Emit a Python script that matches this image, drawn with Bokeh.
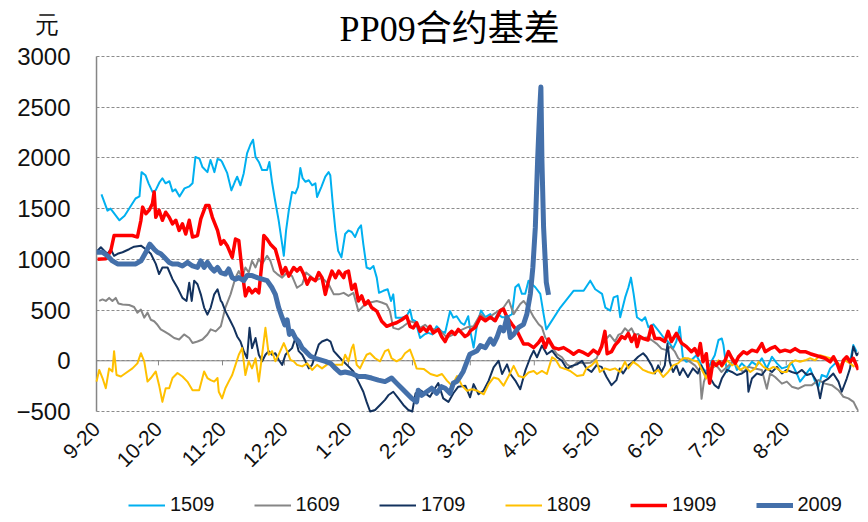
import math
from bokeh.plotting import figure
from bokeh.models import Range1d, FixedTicker, Label, Legend, LegendItem
from bokeh.embed import file_html
from bokeh.resources import INLINE

# ---- axis data ----
month_ticks = [0, 30, 61, 91, 122, 153, 181, 212, 242, 273, 303, 334]  # days since 9-20
month_labels = ["9-20", "10-20", "11-20", "12-20", "1-20", "2-20", "3-20",
                "4-20", "5-20", "6-20", "7-20", "8-20"]
X_END = 369
y_ticks = [-500, 0, 500, 1000, 1500, 2000, 2500, 3000]
unit_text = "元"
title_text = "PP09合约基差"
series_names = ["1509", "1609", "1709", "1809", "1909", "2009"]

# ---- series (day offset from 9-20, basis in yuan) ----
d1509 = [2.4, 5.3, 6.8, 11.1, 13.6, 18.9, 20.8, 21.8, 23.7, 25.2,
         27.1, 28.6, 30.5, 31.9, 33.4, 35.3, 36.8, 38.2, 40.2, 42.6,
         45.0, 46.5, 47.9, 49.9, 51.3, 53.7, 55.2, 57.1, 58.6, 60.0,
         60.8, 63.3, 65.3, 66.9, 68.1, 69.7, 71.3, 72.9, 74.5, 75.8,
         77.0, 78.6, 80.2, 82.6, 83.7, 85.0, 86.3, 88.2, 89.9, 90.7,
         91.8, 93.1, 94.7, 96.3, 97.6, 98.7, 99.8, 101.2, 102.8, 104.4,
         106.0, 106.8, 108.9, 110.8, 112.4, 113.2, 114.4, 115.7, 117.0, 118.6,
         120.4, 122.0, 123.6, 125.2, 126.8, 128.1, 129.2, 130.8, 132.5, 134.1,
         135.7, 136.8, 138.9, 141.0, 142.6, 143.7, 144.9, 147.8, 150.2, 151.8,
         152.9, 154.5, 156.7, 158.8, 160.7, 162.6, 164.7, 167.1, 168.8, 171.2,
         172.8, 174.4, 176.5, 178.1, 180.0, 181.0, 182.6, 184.3, 186.2, 188.3,
         190.7, 192.3, 194.2, 196.4, 198.8, 201.2, 202.8, 204.4, 206.0, 207.6,
         209.2, 210.9, 212.5, 214.9, 216.5, 217.8, 224.6, 231.0, 235.9, 239.1,
         241.5, 244.8, 246.4, 248.8, 250.4, 252.3, 253.6, 256.0, 257.6, 258.8,
         260.1, 261.7, 264.1, 265.7, 267.3, 269.7, 272.2, 274.6, 276.0, 277.6,
         279.2, 280.8, 282.4, 284.0, 285.6, 288.0, 290.5, 292.1, 293.7, 295.3,
         297.7, 299.4, 301.2, 302.8, 303.6, 305.3, 306.9, 308.5, 310.1, 312.5,
         315.0, 317.4, 319.8, 322.2, 324.6, 327.1, 329.5, 331.9, 334.3, 336.7,
         339.1, 340.7, 343.2, 345.6, 348.0, 349.6, 351.2, 353.6, 355.3, 357.7,
         360.1, 362.5, 364.9, 366.5, 368.1]
v1509 = [1640, 1480, 1500, 1385, 1430, 1600, 1620, 1860, 1830, 1750,
         1665, 1680, 1760, 1800, 1750, 1770, 1670, 1690, 1620, 1700,
         1720, 1750, 2010, 1990, 1910, 1860, 1980, 1860, 1990, 1980,
         1960, 1850, 1680, 1760, 1815, 1730, 1850, 2045, 2130, 2180,
         2010, 1960, 1880, 1880, 1960, 1760, 1600, 1385, 1150, 1035,
         1285, 1480, 1665, 1650, 1715, 1900, 1800, 1765, 1780, 1730,
         1750, 1615, 1715, 1815, 1860, 1830, 1550, 1285, 1085, 1020,
         1250, 1285, 1270, 1220, 1300, 1335, 1150, 920, 905, 935,
         820, 670, 690, 705, 590, 655, 425, 425, 440, 505,
         405, 390, 225, 260, 275, 260, 340, 290, 275, 490,
         425, 440, 375, 355, 440, 295, 130, 360, 495, 430,
         460, 395, 460, 430, 430, 460, 725, 755, 660, 660,
         790, 755, 725, 660, 460, 310, 525, 690, 690, 790,
         705, 660, 525, 495, 625, 640, 430, 625, 725, 820,
         660, 430, 395, 430, 330, 360, 295, 230, 205, 170,
         120, 190, 335, 25, -10, 5, 55, -10, -75, -110,
         -10, 55, 205, 220, 155, -110, -45, 5, -90, -25,
         -75, -10, -45, 25, -75, 40, -25, -75, -60, -25,
         -125, -205, -140, -75, -205, -255, -140, -160, -75, -25,
         -45, 5, -10, 155, 90]

d1609 = [1.3, 2.9, 4.5, 6.1, 7.7, 9.3, 10.6, 12.6, 15.8, 18.2,
         19.8, 21.5, 23.1, 24.7, 26.3, 27.9, 29.5, 31.1, 32.8, 35.2,
         37.6, 40.0, 42.4, 44.9, 46.5, 48.9, 51.3, 53.7, 55.3, 57.7,
         60.2, 60.8, 62.4, 64.9, 67.3, 68.9, 70.5, 72.1, 73.7, 75.3,
         77.0, 78.6, 80.2, 82.6, 84.2, 85.8, 87.5, 89.9, 92.3, 94.7,
         97.1, 99.6, 101.5, 103.6, 106.0, 109.2, 112.4, 114.9, 117.3, 119.7,
         122.0, 124.4, 126.8, 129.2, 132.5, 135.7, 138.1, 140.5, 142.1, 143.7,
         146.2, 148.6, 151.8, 154.3, 156.7, 159.1, 161.5, 163.9, 166.5, 169.7,
         172.9, 176.2, 179.4, 182.6, 185.9, 189.1, 192.3, 197.1, 199.6, 202.0,
         205.2, 206.8, 209.2, 211.7, 214.1, 215.7, 217.3, 219.7, 223.0, 225.4,
         227.8, 230.2, 232.7, 235.7, 239.1, 242.2, 244.6, 247.0, 248.6, 251.1,
         252.7, 254.3, 255.9, 257.5, 259.1, 260.7, 262.3, 263.9, 266.3, 268.8,
         271.2, 273.6, 276.0, 277.9, 280.1, 281.7, 283.3, 284.9, 287.4, 289.8,
         292.2, 293.0, 294.1, 295.7, 297.8, 300.2, 302.6, 306.2, 308.5, 310.9,
         313.3, 315.7, 318.9, 322.2, 324.6, 326.2, 328.6, 331.9, 334.3, 336.7,
         339.9, 343.2, 346.4, 349.6, 352.8, 356.1, 359.3, 361.7, 364.1, 366.6,
         368.2, 369.3]
v1609 = [590, 605, 590, 620, 590, 620, 565, 555, 550, 530,
         475, 505, 425, 475, 405, 390, 355, 310, 290, 260,
         225, 210, 260, 225, 175, 190, 210, 260, 310, 290,
         340, 390, 525, 655, 820, 885, 820, 920, 870, 985,
         920, 1005, 955, 1035, 985, 885, 855, 820, 870, 835,
         720, 755, 870, 835, 790, 820, 755, 655, 655, 670,
         640, 670, 490, 540, 575, 590, 575, 555, 490, 325,
         310, 340, 390, 375, 325, 355, 310, 310, 295, 230,
         260, 300, 330, 340, 460, 410, 460, 525, 600, 460,
         560, 590, 525, 430, 360, 330, 230, 165, 65, 35,
         -35, -65, -15, -25, -20, 25, 155, 220, 255, 190,
         255, 270, 320, 290, 320, 255, 265, 220, 230, 205,
         170, 120, 105, 140, 90, 25, 5, 25, -10, -45,
         -110, -375, -210, -110, -75, -45, -110, -45, 5, -75,
         -110, -60, -75, -90, -275, -125, -160, -225, -205, -255,
         -275, -240, -240, -190, -225, -240, -290, -355, -370, -405,
         -470, -500]

d1709 = [0.5, 2.1, 3.7, 5.3, 6.9, 8.5, 10.2, 12.6, 15.8, 18.2,
         21.5, 23.9, 26.3, 28.7, 30.3, 31.9, 34.4, 36.8, 39.2, 41.6,
         43.6, 44.9, 46.1, 47.3, 48.9, 50.5, 52.1, 53.7, 55.3, 57.0,
         58.6, 60.2, 60.8, 62.4, 64.9, 66.5, 68.1, 69.7, 71.3, 72.9,
         74.1, 75.3, 77.0, 78.6, 80.2, 81.8, 83.4, 85.0, 86.6, 88.2,
         89.9, 91.5, 93.1, 94.7, 96.3, 97.9, 99.6, 101.2, 102.8, 104.4,
         106.0, 107.6, 109.2, 111.7, 113.3, 114.9, 116.5, 119.2, 122.0, 124.4,
         126.8, 129.2, 130.8, 132.5, 134.9, 137.3, 139.7, 141.3, 143.7, 146.2,
         148.6, 151.0, 152.9, 154.5, 156.7, 159.1, 161.5, 163.9, 165.5, 167.9,
         170.4, 172.8, 175.2, 178.6, 180.9, 182.6, 185.0, 187.4, 189.9, 192.3,
         194.7, 196.4, 198.8, 200.4, 202.8, 205.2, 207.6, 210.1, 211.7, 213.3,
         215.7, 218.1, 220.6, 223.0, 225.4, 227.8, 230.2, 232.7, 235.1, 237.3,
         239.7, 242.1, 244.6, 247.0, 249.4, 251.8, 253.4, 255.0, 257.5, 259.9,
         262.3, 264.7, 266.3, 268.8, 270.4, 272.0, 273.6, 275.2, 276.5, 277.6,
         279.2, 280.8, 282.4, 284.0, 286.4, 288.8, 291.2, 292.8, 294.4, 296.9,
         299.3, 301.2, 302.8, 305.3, 307.7, 310.1, 312.5, 315.0, 315.7, 317.4,
         319.8, 322.2, 324.6, 327.1, 329.5, 331.9, 334.3, 336.7, 339.1, 341.6,
         344.0, 346.4, 348.8, 350.4, 352.0, 354.4, 356.8, 359.3, 360.9, 363.3,
         364.9, 366.5, 368.1, 369.7]
v1709 = [1085, 1120, 1085, 1055, 1100, 1035, 1055, 1070, 1100, 1125,
         1135, 1100, 1055, 955, 855, 920, 920, 805, 720, 620,
         590, 770, 590, 790, 755, 655, 525, 455, 525, 655,
         705, 590, 575, 490, 390, 325, 240, 190, 95, 25,
         325, 125, 225, 60, -5, 60, 95, 60, 75, 10,
         -40, 60, 95, 125, 225, 95, 60, -5, -75, -40,
         60, 160, 190, 210, 190, 95, 60, 0, -55, -105,
         -205, -305, -405, -500, -485, -435, -385, -340, -305, -370,
         -435, -485, -500, -320, -290, -320, -355, -270, -220, -370,
         -405, -320, -255, -245, -360, -230, -330, -295, -195, -65,
         0, -130, -35, -130, -195, -280, -100, 35, 100, 35,
         150, 65, 100, 35, 0, -80, -50, -35, 0, -75,
         -110, -45, -60, -160, -240, -190, -75, -125, -45, -10,
         40, 75, 40, -45, -125, -45, -110, -45, 170, -10,
         -110, -45, -140, -75, -160, -75, -125, -45, -110, -160,
         -240, -270, -175, -90, -110, -140, -125, -90, -305, -175,
         -125, -140, -75, -110, -60, -125, -90, -110, -125, -90,
         -140, -125, -205, -370, -205, -175, -125, -205, -305, -175,
         -75, 140, 55, 90]

d1809 = [0.0, 1.3, 2.9, 4.5, 6.1, 7.7, 8.5, 9.7, 11.8, 14.2,
         17.4, 19.8, 21.5, 23.1, 24.7, 26.3, 28.7, 30.3, 31.9, 33.5,
         35.2, 36.8, 39.2, 41.6, 44.0, 46.5, 49.7, 52.1, 53.7, 55.3,
         57.0, 58.6, 59.2, 60.8, 62.4, 64.0, 65.7, 67.3, 68.9, 70.5,
         72.1, 73.7, 75.3, 77.0, 78.6, 80.2, 81.8, 83.4, 85.0, 86.6,
         88.2, 90.7, 92.3, 93.9, 95.5, 97.1, 99.6, 102.0, 104.4, 106.8,
         109.2, 112.4, 115.7, 118.9, 120.4, 122.0, 123.6, 124.4, 126.0, 127.6,
         129.2, 130.8, 132.5, 134.9, 137.3, 139.7, 141.3, 142.9, 145.3, 147.8,
         149.4, 151.8, 153.4, 155.0, 158.4, 161.7, 164.9, 167.3, 169.7, 172.1,
         174.6, 177.0, 179.4, 181.8, 184.3, 187.5, 189.9, 192.3, 194.7, 197.1,
         199.6, 202.0, 204.4, 206.8, 209.2, 211.7, 213.3, 215.7, 218.1, 220.6,
         222.2, 224.6, 227.0, 229.4, 232.7, 235.7, 237.2, 239.7, 242.1, 243.7,
         246.2, 248.6, 251.1, 253.5, 255.9, 257.5, 259.9, 262.3, 264.7, 267.1,
         269.6, 272.0, 274.4, 276.8, 279.2, 281.6, 284.0, 286.4, 288.8, 291.2,
         293.7, 295.3, 296.9, 299.4, 301.2, 302.8, 305.3, 307.7, 309.3, 311.7,
         314.2, 316.6, 319.0, 320.6, 323.0, 325.4, 327.8, 329.5, 331.9, 334.3,
         335.9, 338.3, 340.7, 343.2, 345.6, 348.0, 350.4, 352.8, 355.3, 357.7,
         360.1, 362.5, 364.9, 367.0]
v1809 = [-205, -90, -170, -270, -75, -105, 95, -140, -155, -120,
         -75, -25, 75, -5, -205, -170, -105, -240, -405, -270,
         -270, -170, -120, -155, -205, -290, -290, -105, -170, -190,
         -205, -170, -305, -370, -270, -205, -140, -40, 60, 125,
         -140, -5, -75, 25, -205, 60, 325, 60, 95, -5,
         60, 175, 95, 10, -5, -40, -55, -25, -90, -40,
         -75, -25, -40, -40, 60, -5, 125, 160, -40, -75,
         -5, 60, 75, 25, -5, 95, 110, 25, -5, 25,
         75, 110, 25, -75, -80, -130, -150, -130, -195, -245,
         -150, -245, -295, -280, -295, -330, -230, -165, -180, -245,
         -150, -50, -150, -165, -115, -100, -130, -100, -130, 35,
         15, -65, -80, -100, -150, -140, -75, -45, 5, -110,
         -75, -90, -75, -110, -10, -75, -10, -45, -90, -110,
         -125, -90, -160, -110, -45, -25, 25, 25, 5, -10,
         -110, -175, -75, -45, 5, -60, 5, -45, -25, -90,
         -60, -110, -75, -10, -60, -90, -60, -75, -110, -110,
         -25, 5, -10, 5, 25, 5, 55, 40, 25, 5,
         -45, 5, -25, -60]

d1909 = [0.5, 4.5, 6.9, 8.5, 11.0, 14.2, 17.4, 19.8, 21.5, 22.3,
         23.9, 25.5, 27.1, 27.9, 28.7, 30.3, 31.9, 33.5, 35.2, 36.8,
         38.4, 40.0, 41.6, 43.2, 44.9, 46.5, 48.9, 50.5, 52.9, 54.5,
         56.1, 58.6, 60.2, 61.6, 63.3, 65.7, 67.3, 68.9, 70.5, 72.1,
         73.7, 75.3, 77.0, 78.6, 80.2, 81.0, 82.6, 84.2, 86.6, 88.2,
         89.9, 91.5, 93.1, 95.5, 97.1, 98.7, 100.3, 102.0, 103.6, 106.0,
         107.6, 109.2, 110.8, 112.4, 114.0, 115.7, 117.3, 119.7, 120.4, 122.0,
         123.6, 125.2, 126.8, 128.4, 130.0, 131.6, 133.2, 135.7, 138.1, 140.5,
         142.9, 145.3, 147.8, 150.2, 151.8, 153.4, 155.0, 156.7, 158.3, 159.9,
         161.5, 163.1, 165.5, 167.1, 168.8, 170.4, 172.0, 173.6, 175.2, 176.8,
         178.4, 180.0, 181.0, 183.4, 185.9, 188.3, 190.7, 193.1, 195.6, 197.1,
         198.8, 201.2, 203.6, 205.2, 206.8, 209.2, 211.7, 214.1, 215.7, 217.3,
         218.9, 221.3, 223.8, 226.2, 228.6, 231.0, 233.5, 235.9, 238.1, 240.6,
         243.0, 244.6, 246.2, 247.3, 249.4, 251.1, 252.7, 254.3, 255.9, 257.5,
         259.1, 260.7, 261.8, 263.1, 264.7, 267.1, 268.7, 270.4, 272.8, 275.2,
         276.8, 278.4, 280.8, 283.3, 285.7, 288.1, 289.7, 291.3, 292.4, 293.7,
         295.3, 296.9, 298.5, 300.1, 301.8, 302.8, 304.4, 306.0, 307.7, 309.3,
         310.9, 313.3, 315.0, 317.4, 319.8, 322.2, 323.8, 326.2, 328.6, 331.0,
         333.4, 335.9, 338.3, 340.7, 343.2, 345.6, 348.0, 350.4, 352.8, 355.3,
         356.9, 358.6, 360.1, 361.7, 363.3, 364.9, 366.5, 368.9]
v1909 = [1000, 1005, 1085, 1235, 1235, 1235, 1235, 1220, 1385, 1515,
         1450, 1485, 1550, 1665, 1415, 1485, 1385, 1465, 1415, 1350,
         1385, 1285, 1350, 1250, 1385, 1220, 1235, 1400, 1530, 1530,
         1415, 1285, 1150, 1185, 1135, 1020, 1200, 1185, 885, 640,
         720, 670, 705, 670, 985, 1235, 1200, 1150, 1100, 985,
         855, 920, 835, 920, 885, 920, 855, 755, 820, 790,
         870, 820, 655, 790, 885, 820, 885, 820, 870, 885,
         705, 755, 590, 640, 555, 590, 525, 490, 390, 340,
         360, 375, 405, 440, 340, 325, 375, 290, 325, 290,
         340, 275, 310, 240, 190, 260, 290, 260, 310, 275,
         240, 260, 295, 330, 430, 395, 430, 395, 495, 510,
         430, 360, 295, 230, 165, 165, 130, 180, 230, 130,
         215, 130, 115, 130, 100, 65, 100, 80, 55, 105,
         70, 140, 290, 70, 90, 155, 190, 240, 220, 270,
         190, 255, 140, 240, 220, 205, 340, 220, 220, 190,
         290, 190, 270, 175, 140, 90, 120, 55, 170, -10,
         70, -220, -10, -45, -10, -45, 5, 90, 25, -25,
         40, 90, 70, 105, 90, 170, 90, 120, 140, 90,
         105, 90, 120, 90, 90, 70, 55, 40, 25, -10,
         40, -25, -110, 5, 40, -10, 25, -90]

d2009 = [0.0, 2.9, 5.3, 7.7, 10.2, 14.2, 19.0, 21.5, 23.9, 25.8,
         27.9, 29.5, 31.1, 32.8, 35.2, 36.8, 39.2, 41.6, 44.0, 46.5,
         48.9, 50.5, 52.1, 53.7, 55.3, 57.0, 58.6, 60.2, 62.4, 64.0,
         65.7, 67.3, 68.9, 71.3, 72.9, 75.3, 77.8, 80.2, 82.6, 85.0,
         86.6, 88.2, 89.9, 91.2, 92.3, 93.4, 94.7, 96.3, 97.9, 99.6,
         101.2, 103.6, 106.0, 108.4, 110.8, 113.3, 115.7, 118.1, 120.4, 123.6,
         126.8, 130.0, 133.2, 136.5, 139.7, 142.9, 145.3, 147.8, 150.2, 152.6,
         155.0, 155.8, 157.5, 159.9, 162.3, 164.7, 167.1, 168.8, 171.2, 172.8,
         174.4, 176.1, 177.6, 180.0, 180.8, 184.3, 185.9, 188.3, 190.7, 192.3,
         193.9, 195.6, 197.1, 198.8, 200.4, 202.0, 204.4, 206.8, 208.4, 210.1,
         211.3, 212.5, 213.6, 214.6, 215.2, 215.7, 216.5, 217.8, 218.9]
v2009 = [1070, 1070, 1035, 985, 955, 955, 955, 985, 1070, 1150,
         1100, 1070, 1055, 1020, 970, 955, 955, 935, 970, 935,
         920, 985, 920, 970, 920, 885, 920, 870, 855, 905,
         820, 805, 820, 790, 840, 840, 820, 805, 790, 720,
         655, 525, 425, 355, 405, 260, 290, 225, 190, 125,
         95, 45, 25, 10, -5, -25, -75, -120, -110, -125,
         -155, -155, -170, -190, -205, -170, -220, -270, -320, -370,
         -405, -290, -340, -305, -270, -320, -255, -270, -320, -220,
         -205, -155, -105, 25, 65, 100, 150, 130, 215, 165,
         230, 330, 295, 430, 230, 260, 330, 360, 460, 660,
         920, 1315, 1975, 2470, 2700, 1975, 1315, 775, 650]

series_days = [d1509, d1609, d1709, d1809, d1909, d2009]
series_vals = [v1509, v1609, v1709, v1809, v1909, v2009]
series_colors = ["#00B0F0", "#868686", "#13325E", "#FFC000", "#FF0000", "#4470AA"]
series_widths = [2, 2, 2, 2, 3.5, 5]

FONT = "Liberation Sans"
UNIT_POS = 3315          # unit sits on the value scale above the top tick
TITLE_POS = (171, 3267)  # title position in data space (above the 3000 line)
GRID_COLOR = "#8c8c8c"
AXIS_COLOR = "#868686"

p = figure(width=868, height=522, output_backend="svg", toolbar_location=None,
           title=None,
           x_range=Range1d(-46.5, X_END), y_range=Range1d(-1594, 3552),
           min_border_left=0, min_border_right=10,
           min_border_top=0, min_border_bottom=0,
           outline_line_color=None,
           background_fill_color="white", border_fill_color="white")

# x axis: drawn at the bottom of the value range, labels rotated
p.xaxis.fixed_location = y_ticks[0]
p.xaxis.ticker = FixedTicker(ticks=month_ticks)
p.xaxis.major_label_overrides = {t: lab for t, lab in zip(month_ticks, month_labels)}
p.xaxis.major_label_orientation = math.pi / 4
p.xaxis.axis_line_color = None
p.xaxis.major_tick_line_color = None
p.xaxis.minor_tick_line_color = None
p.xaxis.major_tick_out = 0
p.xaxis.minor_tick_out = 0
p.xaxis.major_label_text_font = FONT
p.xaxis.major_label_text_font_size = "21px"
p.xaxis.major_label_text_color = "#111111"
p.xaxis.major_label_standoff = 14

# y axis at day 0: numeric ticks plus the unit above the top tick
p.yaxis.fixed_location = month_ticks[0]
p.yaxis.ticker = FixedTicker(ticks=y_ticks + [UNIT_POS])
p.yaxis.major_label_overrides = {UNIT_POS: unit_text + "\u2002"}
p.yaxis.axis_line_color = None
p.yaxis.major_tick_line_color = None
p.yaxis.minor_tick_line_color = None
p.yaxis.major_tick_out = 0
p.yaxis.minor_tick_out = 0
p.yaxis.major_label_text_font = FONT
p.yaxis.major_label_text_font_size = "24px"
p.yaxis.major_label_text_color = "#111111"
p.yaxis.major_label_standoff = 26

# dashed value grid limited to the plotting area
p.xgrid.visible = False
ygrid = p.ygrid[0]
if "cross_bounds" in ygrid.properties():
    ygrid.ticker = FixedTicker(ticks=y_ticks)
    ygrid.cross_bounds = (month_ticks[0], X_END)
    ygrid.grid_line_color = GRID_COLOR
    ygrid.grid_line_dash = "3 2"
    ygrid.grid_line_width = 1
else:
    ygrid.visible = False
    p.segment(x0=[month_ticks[0]] * len(y_ticks), y0=y_ticks,
              x1=[X_END] * len(y_ticks), y1=y_ticks,
              line_color=GRID_COLOR, line_dash="3 2", line_width=1)

# value-axis line, zero line and small month ticks on it
p.segment(x0=[month_ticks[0]], y0=[y_ticks[0]], x1=[month_ticks[0]], y1=[y_ticks[-1]],
          line_color=AXIS_COLOR, line_width=1.5)
p.segment(x0=[month_ticks[0]], y0=[0], x1=[X_END], y1=[0],
          line_color=AXIS_COLOR, line_width=1)
p.segment(x0=month_ticks, y0=[0] * len(month_ticks), x1=month_ticks,
          y1=[-45] * len(month_ticks), line_color=AXIS_COLOR, line_width=1)

renderers = []
for name, d, v, c, w in zip(series_names, series_days, series_vals, series_colors, series_widths):
    n = min(len(d), len(v))
    r = p.line(d[:n], v[:n], line_color=c, line_width=w, line_join="round")
    renderers.append(r)

legend = Legend(items=[LegendItem(label=n, renderers=[r]) for n, r in zip(series_names, renderers)],
                orientation="horizontal", location=(128, 6),
                label_text_font=FONT, label_text_font_size="20px", label_text_color="#111111",
                glyph_width=37, glyph_height=20, label_height=20, label_standoff=5,
                spacing=39, padding=0, margin=0,
                border_line_color=None, background_fill_alpha=0)
p.add_layout(legend)

# title
p.add_layout(Label(x=TITLE_POS[0], y=TITLE_POS[1], text=title_text, text_align="center",
                   text_baseline="alphabetic",
                   text_font="Liberation Serif, Noto Sans CJK SC",
                   text_font_size="36px", text_color="#000000"))

open("out.html", "w").write(file_html(p, INLINE))
